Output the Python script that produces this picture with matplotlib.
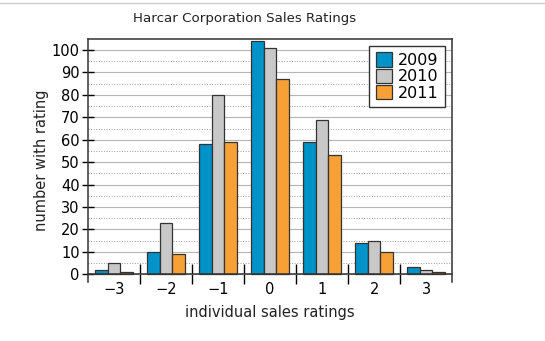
import matplotlib.pyplot as plt
import numpy as np
from matplotlib.lines import Line2D

# Ratings and counts per year
ratings = [-3, -2, -1, 0, 1, 2, 3]
tick_labels = ['\u22123', '\u22122', '\u22121', '0', '1', '2', '3']
years = ['2009', '2010', '2011']
counts_2009 = [2, 10, 58, 104, 59, 14, 3]
counts_2010 = [5, 23, 80, 101, 69, 15, 2]
counts_2011 = [1, 9, 59, 87, 53, 10, 1]

colors = ['#0093c9', '#c8c8c8', '#f7a036']

fig = plt.figure(figsize=(5.45, 3.41), dpi=100)
ax = fig.add_axes([0.1615, 0.173, 0.668, 0.713])

x = np.array(ratings)
w = 0.24
for i, (vals, c, lab) in enumerate(zip([counts_2009, counts_2010, counts_2011], colors, years)):
    ax.bar(x + (i - 1) * w, vals, width=w, color=c, edgecolor='#333333', linewidth=0.9, label=lab, zorder=3)

ax.set_xlim(-3.5, 3.5)
ax.set_ylim(-3.5, 105)

# Grid: solid at tens, dotted at fives
ax.set_yticks(np.arange(0, 101, 10))
ax.set_yticks(np.arange(5, 101, 10), minor=True)
ax.yaxis.grid(True, which='major', color='#b5b5b5', linewidth=0.8, zorder=0)
ax.yaxis.grid(True, which='minor', color='#a0a0a0', linestyle=':', linewidth=0.7, zorder=0)
ax.tick_params(axis='y', which='major', direction='inout', length=8, width=1, labelsize=10.5, pad=2)
ax.tick_params(axis='y', which='minor', length=0)

# Category axis sits at zero with separators between groups
ax.spines['bottom'].set_position(('data', 0))
ax.spines['bottom'].set_zorder(4)
ax.set_xticks(ratings)
ax.set_xticklabels(tick_labels)
ax.set_xticks(np.arange(-2.5, 3, 1), minor=True)
ax.tick_params(axis='x', which='major', length=0, labelsize=10.5, pad=6)
ax.tick_params(axis='x', which='minor', direction='inout', length=14, width=1)

for s in ['left', 'right', 'top', 'bottom']:
    ax.spines[s].set_color('#333333')
    ax.spines[s].set_linewidth(1.1)

ax.set_title('Harcar Corporation Sales Ratings', fontsize=9.6, pad=12, color='#222222', x=0.43)
ax.set_xlabel('individual sales ratings', fontsize=10.5, color='#222222')
ax.set_ylabel('number with rating', fontsize=10.5, labelpad=2, color='#222222')
ax.xaxis.set_label_coords(0.5, -0.095)

leg = ax.legend(loc='upper right', fontsize=11.5, fancybox=False, edgecolor='#333333',
                framealpha=1, handlelength=1.0, handleheight=1.0, handletextpad=0.4,
                labelspacing=0.05, borderpad=0.4, borderaxespad=0,
                bbox_to_anchor=(0.981, 0.971))
leg.get_frame().set_linewidth(1)

# thin page border line at the top
fig.add_artist(Line2D([0, 1], [0.99, 0.99], color='#cccccc', linewidth=1))

fig.savefig('out.png', dpi=100)
